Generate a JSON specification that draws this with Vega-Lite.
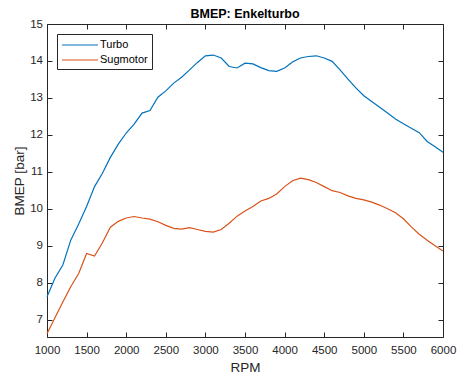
{
  "$schema": "https://vega.github.io/schema/vega-lite/v6.json",
  "width": 396,
  "height": 313,
  "autosize": "none",
  "padding": {"left": 47, "top": 24, "right": 15, "bottom": 41},
  "background": "white",
  "config": {
    "font": "Liberation Sans",
    "view": {"stroke": null},
    "axis": {"grid": false, "domainColor": "#262626", "tickColor": "#262626", "labelColor": "#262626", "titleColor": "#262626", "labelFont": "Liberation Sans", "titleFont": "Liberation Sans", "labelFontSize": 11.5, "titleFontSize": 13.5, "titleFontWeight": "normal", "tickSize": 5, "domainWidth": 1, "tickWidth": 1, "labelFlush": false, "labelOverlap": false, "format": "d"},
    "title": {"font": "Liberation Sans", "fontSize": 12.5, "fontWeight": "bold", "color": "#000000", "anchor": "middle", "offset": 4, "dy": 6.5}
  },
  "title": "BMEP: Enkelturbo",
  "datasets": {
    "bmep": [
      {"rpm":1000,"serie":"Turbo","bmep":7.62},{"rpm":1100,"serie":"Turbo","bmep":8.12},{"rpm":1200,"serie":"Turbo","bmep":8.48},{"rpm":1300,"serie":"Turbo","bmep":9.15},{"rpm":1400,"serie":"Turbo","bmep":9.59},{"rpm":1500,"serie":"Turbo","bmep":10.06},{"rpm":1600,"serie":"Turbo","bmep":10.6},{"rpm":1700,"serie":"Turbo","bmep":10.96},{"rpm":1800,"serie":"Turbo","bmep":11.39},{"rpm":1900,"serie":"Turbo","bmep":11.75},{"rpm":2000,"serie":"Turbo","bmep":12.05},{"rpm":2100,"serie":"Turbo","bmep":12.29},{"rpm":2200,"serie":"Turbo","bmep":12.59},{"rpm":2300,"serie":"Turbo","bmep":12.66},{"rpm":2400,"serie":"Turbo","bmep":13.02},{"rpm":2500,"serie":"Turbo","bmep":13.19},{"rpm":2600,"serie":"Turbo","bmep":13.4},{"rpm":2700,"serie":"Turbo","bmep":13.56},{"rpm":2800,"serie":"Turbo","bmep":13.76},{"rpm":2900,"serie":"Turbo","bmep":13.96},{"rpm":3000,"serie":"Turbo","bmep":14.14},{"rpm":3100,"serie":"Turbo","bmep":14.16},{"rpm":3200,"serie":"Turbo","bmep":14.08},{"rpm":3300,"serie":"Turbo","bmep":13.85},{"rpm":3400,"serie":"Turbo","bmep":13.81},{"rpm":3500,"serie":"Turbo","bmep":13.94},{"rpm":3600,"serie":"Turbo","bmep":13.92},{"rpm":3700,"serie":"Turbo","bmep":13.82},{"rpm":3800,"serie":"Turbo","bmep":13.74},{"rpm":3900,"serie":"Turbo","bmep":13.72},{"rpm":4000,"serie":"Turbo","bmep":13.81},{"rpm":4100,"serie":"Turbo","bmep":13.97},{"rpm":4200,"serie":"Turbo","bmep":14.08},{"rpm":4300,"serie":"Turbo","bmep":14.12},{"rpm":4400,"serie":"Turbo","bmep":14.14},{"rpm":4500,"serie":"Turbo","bmep":14.08},{"rpm":4600,"serie":"Turbo","bmep":13.99},{"rpm":4700,"serie":"Turbo","bmep":13.76},{"rpm":4800,"serie":"Turbo","bmep":13.51},{"rpm":4900,"serie":"Turbo","bmep":13.27},{"rpm":5000,"serie":"Turbo","bmep":13.06},{"rpm":5100,"serie":"Turbo","bmep":12.9},{"rpm":5200,"serie":"Turbo","bmep":12.75},{"rpm":5300,"serie":"Turbo","bmep":12.59},{"rpm":5400,"serie":"Turbo","bmep":12.43},{"rpm":5500,"serie":"Turbo","bmep":12.3},{"rpm":5600,"serie":"Turbo","bmep":12.18},{"rpm":5700,"serie":"Turbo","bmep":12.06},{"rpm":5800,"serie":"Turbo","bmep":11.82},{"rpm":5900,"serie":"Turbo","bmep":11.68},{"rpm":6000,"serie":"Turbo","bmep":11.53},
      {"rpm":1000,"serie":"Sugmotor","bmep":6.62},{"rpm":1100,"serie":"Sugmotor","bmep":7.05},{"rpm":1200,"serie":"Sugmotor","bmep":7.48},{"rpm":1300,"serie":"Sugmotor","bmep":7.89},{"rpm":1400,"serie":"Sugmotor","bmep":8.25},{"rpm":1500,"serie":"Sugmotor","bmep":8.79},{"rpm":1600,"serie":"Sugmotor","bmep":8.72},{"rpm":1700,"serie":"Sugmotor","bmep":9.08},{"rpm":1800,"serie":"Sugmotor","bmep":9.5},{"rpm":1900,"serie":"Sugmotor","bmep":9.66},{"rpm":2000,"serie":"Sugmotor","bmep":9.75},{"rpm":2100,"serie":"Sugmotor","bmep":9.79},{"rpm":2200,"serie":"Sugmotor","bmep":9.75},{"rpm":2300,"serie":"Sugmotor","bmep":9.72},{"rpm":2400,"serie":"Sugmotor","bmep":9.65},{"rpm":2500,"serie":"Sugmotor","bmep":9.55},{"rpm":2600,"serie":"Sugmotor","bmep":9.47},{"rpm":2700,"serie":"Sugmotor","bmep":9.45},{"rpm":2800,"serie":"Sugmotor","bmep":9.49},{"rpm":2900,"serie":"Sugmotor","bmep":9.44},{"rpm":3000,"serie":"Sugmotor","bmep":9.39},{"rpm":3100,"serie":"Sugmotor","bmep":9.37},{"rpm":3200,"serie":"Sugmotor","bmep":9.44},{"rpm":3300,"serie":"Sugmotor","bmep":9.61},{"rpm":3400,"serie":"Sugmotor","bmep":9.8},{"rpm":3500,"serie":"Sugmotor","bmep":9.94},{"rpm":3600,"serie":"Sugmotor","bmep":10.06},{"rpm":3700,"serie":"Sugmotor","bmep":10.21},{"rpm":3800,"serie":"Sugmotor","bmep":10.28},{"rpm":3900,"serie":"Sugmotor","bmep":10.4},{"rpm":4000,"serie":"Sugmotor","bmep":10.6},{"rpm":4100,"serie":"Sugmotor","bmep":10.76},{"rpm":4200,"serie":"Sugmotor","bmep":10.83},{"rpm":4300,"serie":"Sugmotor","bmep":10.79},{"rpm":4400,"serie":"Sugmotor","bmep":10.71},{"rpm":4500,"serie":"Sugmotor","bmep":10.6},{"rpm":4600,"serie":"Sugmotor","bmep":10.49},{"rpm":4700,"serie":"Sugmotor","bmep":10.44},{"rpm":4800,"serie":"Sugmotor","bmep":10.35},{"rpm":4900,"serie":"Sugmotor","bmep":10.28},{"rpm":5000,"serie":"Sugmotor","bmep":10.24},{"rpm":5100,"serie":"Sugmotor","bmep":10.18},{"rpm":5200,"serie":"Sugmotor","bmep":10.1},{"rpm":5300,"serie":"Sugmotor","bmep":10.0},{"rpm":5400,"serie":"Sugmotor","bmep":9.89},{"rpm":5500,"serie":"Sugmotor","bmep":9.73},{"rpm":5600,"serie":"Sugmotor","bmep":9.51},{"rpm":5700,"serie":"Sugmotor","bmep":9.31},{"rpm":5800,"serie":"Sugmotor","bmep":9.15},{"rpm":5900,"serie":"Sugmotor","bmep":9.0},{"rpm":6000,"serie":"Sugmotor","bmep":8.86}
    ]
  },
  "data": {"name": "bmep"},
  "layer": [
    {
      "mark": {"type": "line", "strokeWidth": 1.2},
      "encoding": {
        "x": {"field": "rpm", "type": "quantitative", "scale": {"domain": [1000, 6000], "nice": false, "zero": false},
              "axis": {"orient": "bottom", "title": "RPM", "ticks": false, "values": [1000,1500,2000,2500,3000,3500,4000,4500,5000,5500,6000], "labelPadding": 7.5, "titlePadding": 4}},
        "y": {"field": "bmep", "type": "quantitative", "scale": {"domain": [6.53, 15], "nice": false, "zero": false},
              "axis": {"orient": "left", "title": "BMEP [bar]", "ticks": false, "values": [7,8,9,10,11,12,13,14,15], "labelPadding": 4.5, "titlePadding": 3}},
        "color": {"field": "serie", "type": "nominal",
                  "scale": {"domain": ["Turbo", "Sugmotor"], "range": ["#0072BD", "#D95319"]},
                  "legend": {"title": null, "orient": "none", "legendX": 10, "legendY": 10, "symbolType": "M-3,0H3", "symbolSize": 144, "symbolStrokeWidth": 1.2, "symbolOffset": 12, "labelOffset": 13, "labelFontSize": 11, "labelColor": "#000000", "padding": 4, "rowPadding": 3, "strokeColor": "#262626", "fillColor": "white"}}
      }
    },
    {
      "mark": {"type": "line", "strokeOpacity": 0},
      "encoding": {
        "x": {"field": "rpm", "type": "quantitative", "scale": {"domain": [1000, 6000], "nice": false, "zero": false},
              "axis": {"orient": "top", "title": null, "labels": false, "ticks": false, "domain": true}},
        "y": {"field": "bmep", "type": "quantitative", "scale": {"domain": [6.53, 15], "nice": false, "zero": false},
              "axis": {"orient": "right", "title": null, "labels": false, "ticks": false, "domain": true}},
        "detail": {"field": "serie"}
      }
    },
    {
      "mark": {"type": "line", "strokeOpacity": 0},
      "encoding": {
        "x": {"field": "rpm", "type": "quantitative", "scale": {"domain": [1000, 6000], "nice": false, "zero": false},
              "axis": {"orient": "bottom", "title": null, "labels": false, "domain": false, "offset": -5, "values": [1000,1500,2000,2500,3000,3500,4000,4500,5000,5500,6000]}},
        "y": {"field": "bmep", "type": "quantitative", "scale": {"domain": [6.53, 15], "nice": false, "zero": false},
              "axis": {"orient": "left", "title": null, "labels": false, "domain": false, "offset": -5, "values": [7,8,9,10,11,12,13,14,15]}},
        "detail": {"field": "serie"}
      }
    },
    {
      "mark": {"type": "line", "strokeOpacity": 0},
      "encoding": {
        "x": {"field": "rpm", "type": "quantitative", "scale": {"domain": [1000, 6000], "nice": false, "zero": false},
              "axis": {"orient": "top", "title": null, "labels": false, "domain": false, "offset": -5, "values": [1000,1500,2000,2500,3000,3500,4000,4500,5000,5500,6000]}},
        "y": {"field": "bmep", "type": "quantitative", "scale": {"domain": [6.53, 15], "nice": false, "zero": false},
              "axis": {"orient": "right", "title": null, "labels": false, "domain": false, "offset": -5, "values": [7,8,9,10,11,12,13,14,15]}},
        "detail": {"field": "serie"}
      }
    }
  ],
  "resolve": {"axis": {"x": "independent", "y": "independent"}}
}
